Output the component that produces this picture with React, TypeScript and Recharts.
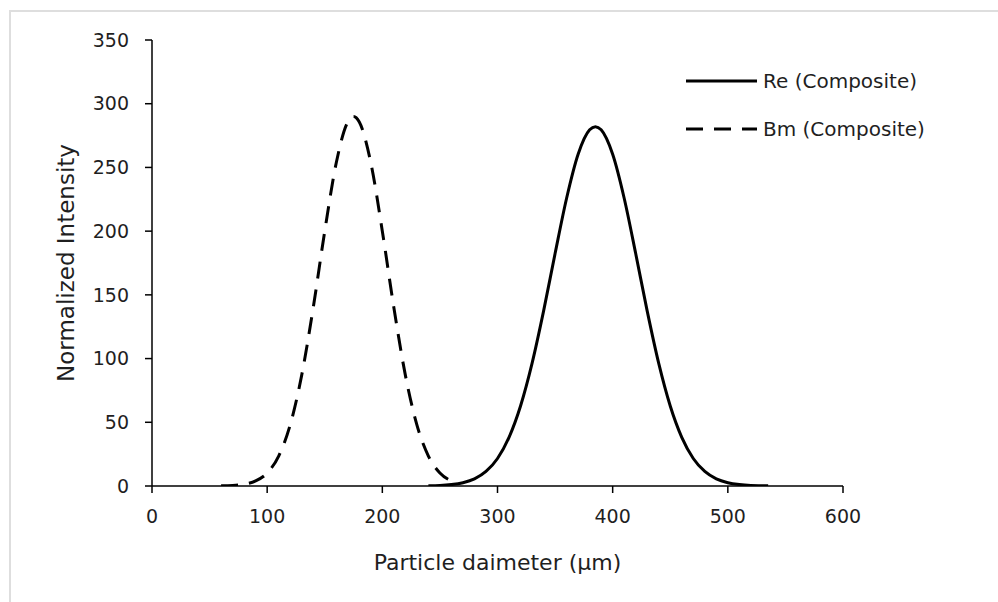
import { LineChart, Line, XAxis, YAxis, Legend, Label } from "recharts";

// values
const reX = [240, 250, 260, 270, 280, 290, 300, 310, 320, 330, 340, 350, 360, 370, 380, 385, 390, 400, 410, 420, 430, 440, 450, 460, 470, 480, 490, 500, 510, 520, 530, 535];
const reY = [0.2, 0.4, 1.1, 2.6, 5.6, 11.4, 21.6, 38.2, 62.8, 96.2, 137.2, 182.4, 225.8, 260.3, 279.5, 282, 279.5, 260.3, 225.8, 182.4, 137.2, 96.2, 62.8, 38.2, 21.6, 11.4, 5.6, 2.6, 1.1, 0.4, 0.2, 0.1];

const bmX = [60, 70, 80, 90, 100, 110, 120, 130, 140, 150, 160, 170, 175, 180, 190, 200, 210, 220, 230, 240, 250, 260, 265];
const bmY = [0.1, 0.4, 1.4, 4.0, 10.2, 23.5, 48, 87, 140, 200, 253.7, 285.7, 290, 285.7, 253.7, 200, 140, 87, 48, 23.5, 10.2, 4.0, 2.3];

const xTicks = [0, 100, 200, 300, 400, 500, 600];
const yTicks = [0, 50, 100, 150, 200, 250, 300, 350];
const seriesNames = ["Re (Composite)", "Bm (Composite)"];

const reData = reX.map((x, i) => ({ x, y: reY[i] }));
const bmData = bmX.map((x, i) => ({ x, y: bmY[i] }));

const FONT = "'DejaVu Sans', sans-serif";
const INK = "#1f1f1f";
const DASH = "17 11";

function LegendBox() {
    return (
        <svg width={270} height={100}>
            <line x1={6} x2={77} y1={21} y2={21} stroke="#000" strokeWidth={3} />
            <text x={83} y={21} dominantBaseline="central" fontFamily={FONT} fontSize={20} fill={INK}>
                {seriesNames[0]}
            </text>
            <line x1={6} x2={77} y1={69} y2={69} stroke="#000" strokeWidth={3} strokeDasharray={DASH} />
            <text x={83} y={69} dominantBaseline="central" fontFamily={FONT} fontSize={20} fill={INK}>
                {seriesNames[1]}
            </text>
        </svg>
    );
}

export default function App() {
    return (
        <div style={{ position: "absolute", left: 0, top: 0, width: 998, height: 602, background: "#fff" }}>
            <div
                style={{
                    position: "absolute",
                    left: 9,
                    top: 10,
                    right: 0,
                    bottom: 0,
                    borderTop: "2px solid #dedede",
                    borderLeft: "2px solid #dedede",
                }}
            />
            <LineChart width={998} height={602} margin={{ top: 40, right: 155, bottom: 26, left: 40 }}>
                <XAxis
                    dataKey="x"
                    type="number"
                    domain={[0, 600]}
                    ticks={xTicks}
                    allowDataOverflow
                    height={90}
                    tickSize={7}
                    tickMargin={17}
                    axisLine={{ stroke: "#000", strokeWidth: 1.5 }}
                    tickLine={{ stroke: "#000", strokeWidth: 1.5 }}
                    tick={{ fill: INK, fontSize: 19, fontFamily: FONT }}
                >
                    <Label
                        content={(p: any) => {
                            const vb = p.viewBox;
                            return (
                                <text
                                    x={vb.x + vb.width / 2}
                                    y={vb.y + 76}
                                    textAnchor="middle"
                                    dominantBaseline="central"
                                    fontFamily={FONT}
                                    fontSize={22}
                                    fill={INK}
                                >
                                    Particle daimeter (µm)
                                </text>
                            );
                        }}
                    />
                </XAxis>
                <YAxis
                    type="number"
                    domain={[0, 350]}
                    ticks={yTicks}
                    allowDataOverflow
                    width={112}
                    tickSize={7}
                    tickMargin={16}
                    axisLine={{ stroke: "#000", strokeWidth: 1.5 }}
                    tickLine={{ stroke: "#000", strokeWidth: 1.5 }}
                    tick={{ fill: INK, fontSize: 19, fontFamily: FONT }}
                >
                    <Label
                        content={(p: any) => {
                            const vb = p.viewBox;
                            const cx = vb.x + 26;
                            const cy = vb.y + vb.height / 2;
                            return (
                                <text
                                    x={cx}
                                    y={cy}
                                    transform={`rotate(-90 ${cx} ${cy})`}
                                    textAnchor="middle"
                                    dominantBaseline="central"
                                    fontFamily={FONT}
                                    fontSize={23}
                                    fill={INK}
                                >
                                    Normalized Intensity
                                </text>
                            );
                        }}
                    />
                </YAxis>
                <Legend
                    layout="horizontal"
                    verticalAlign="middle"
                    align="center"
                    content={() => <LegendBox />}
                    wrapperStyle={{ top: 60, left: 680, width: 270, height: 100 }}
                />
                <Line
                    data={reData}
                    dataKey="y"
                    name={seriesNames[0]}
                    type="monotone"
                    stroke="#000"
                    strokeWidth={3}
                    dot={false}
                    activeDot={false}
                    isAnimationActive={false}
                />
                <Line
                    data={bmData}
                    dataKey="y"
                    name={seriesNames[1]}
                    type="monotone"
                    stroke="#000"
                    strokeWidth={3}
                    strokeDasharray={DASH}
                    dot={false}
                    activeDot={false}
                    isAnimationActive={false}
                />
            </LineChart>
        </div>
    );
}
